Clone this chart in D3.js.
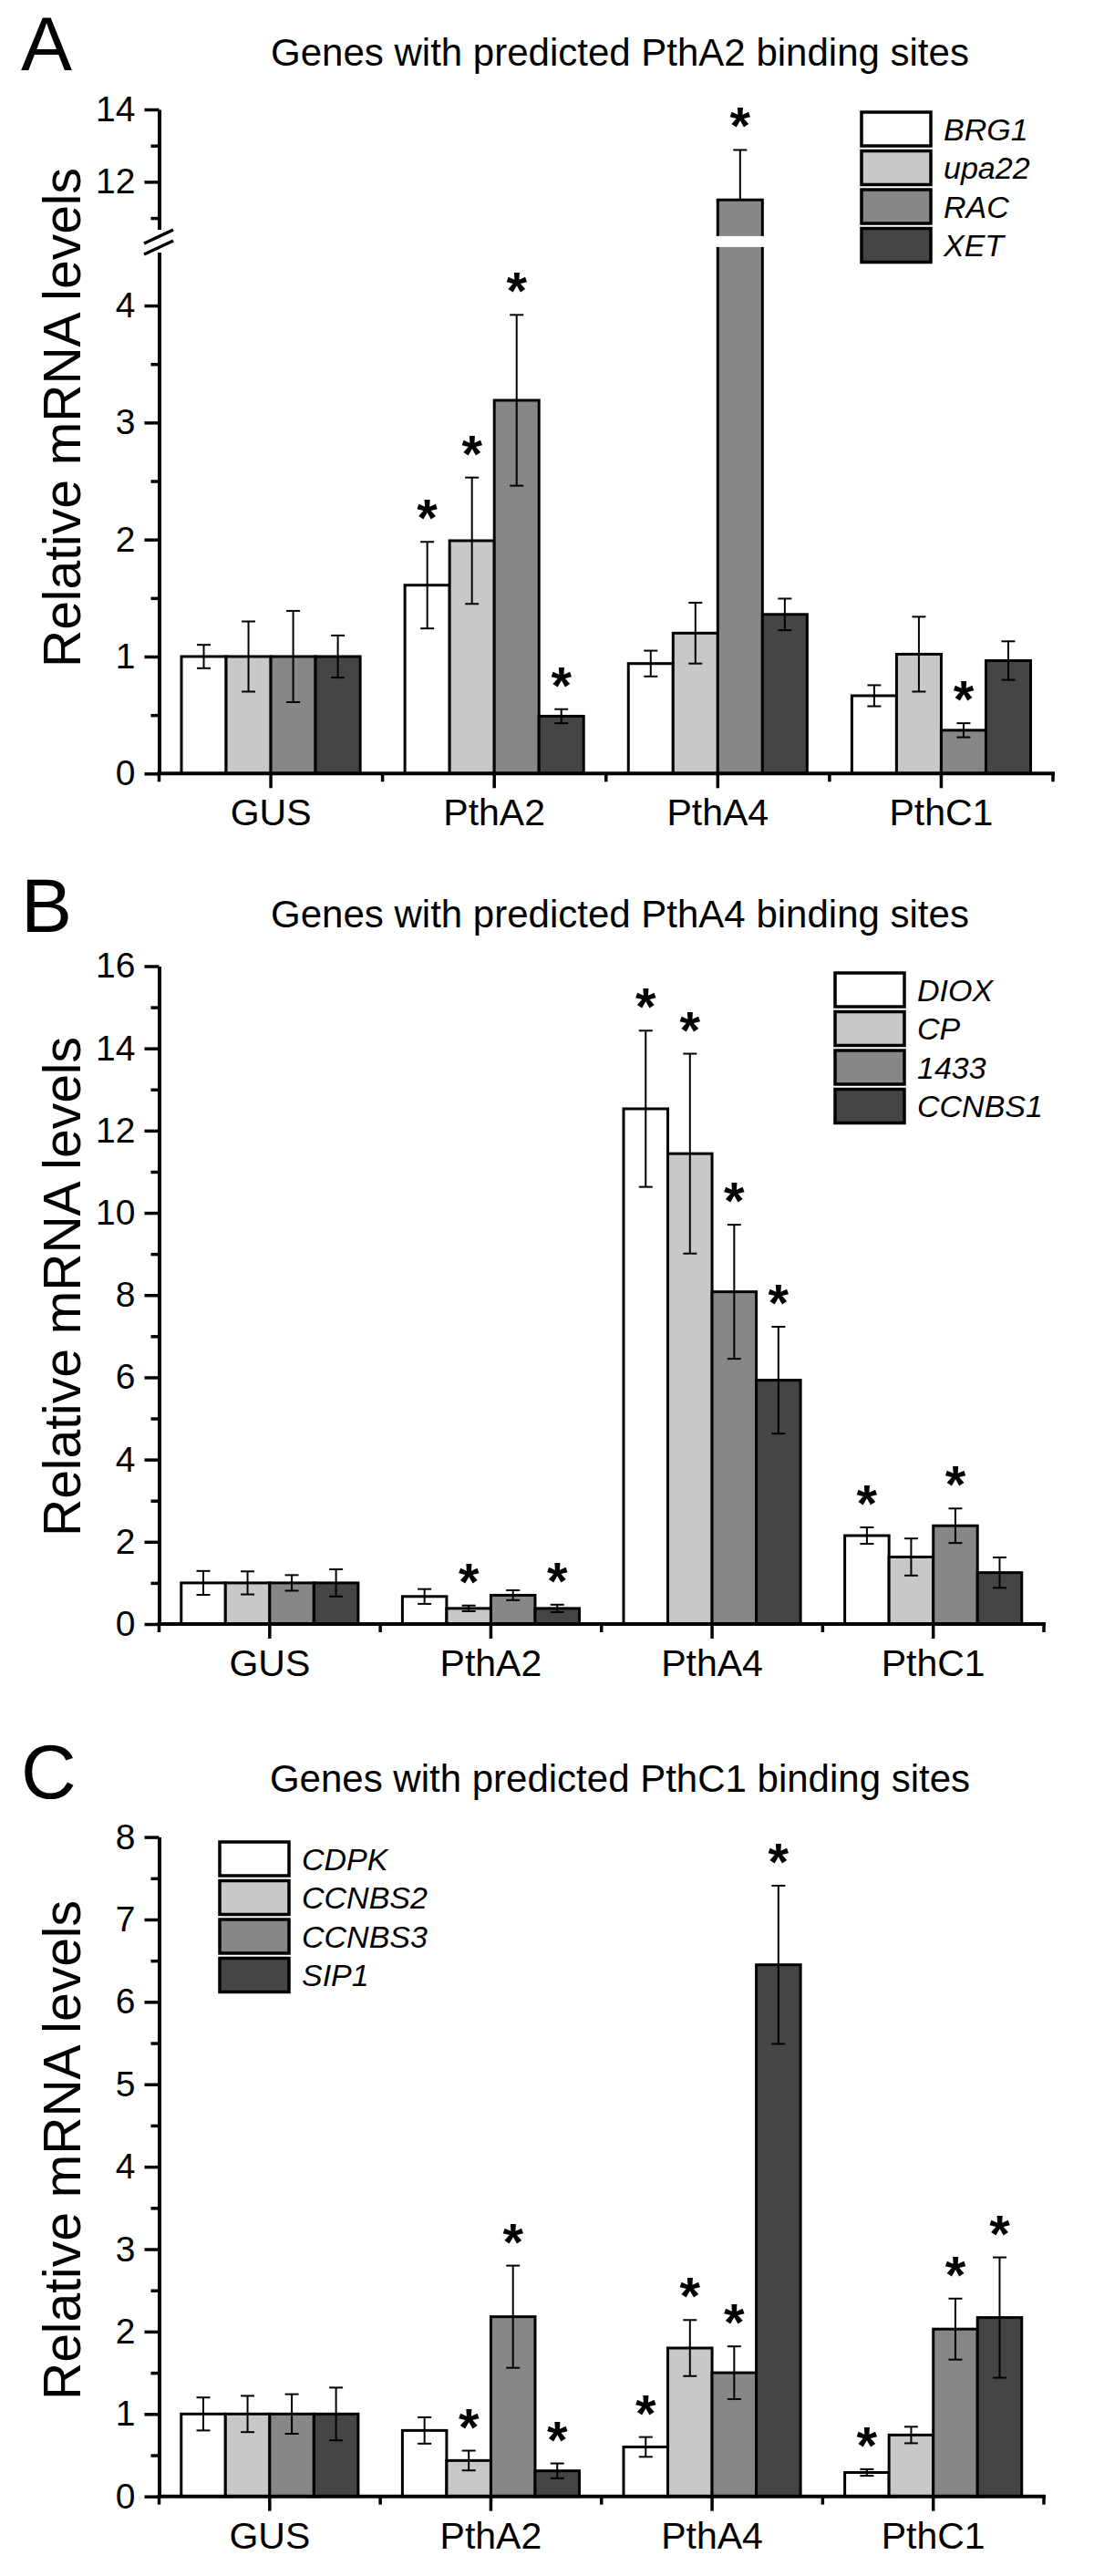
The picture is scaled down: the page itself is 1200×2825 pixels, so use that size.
<!DOCTYPE html>
<html><head><meta charset="utf-8">
<script src="https://cdn.jsdelivr.net/npm/d3@7"></script>
<style>
html,body{margin:0;padding:0;background:#fff;}
text{font-family:"Liberation Sans",Arial,Helvetica,sans-serif;fill:#000;}
</style></head>
<body><svg id="c" width="1200" height="2825"></svg>
<script>
// ---------------- DATA ----------------
const categories = ["GUS", "PthA2", "PthA4", "PthC1"];
const fills = ["#ffffff", "#c8c8c8", "#878787", "#454545"];

// Panel A
const genesA = ["BRG1", "upa22", "RAC", "XET"];
const meansA = [
  [1.00, 1.61, 0.94, 0.665],
  [1.00, 1.99, 1.20, 1.02],
  [1.00, 3.19, 11.50, 0.37],
  [1.00, 0.49, 1.36, 0.965]
];
const errorsA = [
  [0.10, 0.37, 0.11, 0.09],
  [0.30, 0.54, 0.26, 0.32],
  [0.39, 0.73, 1.38, 0.06],
  [0.18, 0.06, 0.135, 0.165]
];
const starsA = [
  [0, 1, 0, 0],
  [0, 1, 0, 0],
  [0, 1, 1, 1],
  [0, 1, 0, 0]
];
const ticksALower = [0, 1, 2, 3, 4];
const minorALower = [0.5, 1.5, 2.5, 3.5];
const ticksAUpper = [12, 14];
const minorAUpper = [11, 13];

// Panel B
const genesB = ["DIOX", "CP", "1433", "CCNBS1"];
const meansB = [
  [1.00, 0.67, 12.53, 2.15],
  [1.00, 0.38, 11.44, 1.63],
  [1.00, 0.70, 8.08, 2.39],
  [1.00, 0.38, 5.93, 1.25]
];
const errorsB = [
  [0.29, 0.18, 1.90, 0.20],
  [0.28, 0.07, 2.43, 0.45],
  [0.19, 0.12, 1.63, 0.42],
  [0.33, 0.09, 1.30, 0.37]
];
const starsB = [
  [0, 0, 1, 1],
  [0, 1, 1, 0],
  [0, 0, 1, 1],
  [0, 1, 1, 0]
];
const ticksB = [0, 2, 4, 6, 8, 10, 12, 14, 16];
const minorB = [1, 3, 5, 7, 9, 11, 13, 15];

// Panel C
const genesC = ["CDPK", "CCNBS2", "CCNBS3", "SIP1"];
const meansC = [
  [1.00, 0.80, 0.60, 0.29],
  [1.00, 0.435, 1.80, 0.745],
  [1.00, 2.18, 1.50, 2.03],
  [1.00, 0.31, 6.45, 2.17]
];
const errorsC = [
  [0.20, 0.16, 0.12, 0.04],
  [0.22, 0.12, 0.34, 0.10],
  [0.24, 0.62, 0.32, 0.37],
  [0.32, 0.09, 0.96, 0.73]
];
const starsC = [
  [0, 0, 1, 1],
  [0, 1, 1, 0],
  [0, 1, 1, 1],
  [0, 1, 1, 1]
];
const ticksC = [0, 1, 2, 3, 4, 5, 6, 7, 8];
const minorC = [0.5, 1.5, 2.5, 3.5, 4.5, 5.5, 6.5, 7.5];

const titles = [
  "Genes with predicted PthA2 binding sites",
  "Genes with predicted PthA4 binding sites",
  "Genes with predicted PthC1 binding sites"
];
const letters = ["A", "B", "C"];
const yLabel = "Relative mRNA levels";

// ---------------- DRAW ----------------
const svg = d3.select("#c");
const AX = 174.5;
const fmt = d3.format("d");

function drawPanel(p) {
  const g = svg.append("g");
  const x = d3.scaleBand().domain(categories).range([AX, p.xEnd]).padding(0);
  const xs = d3.scaleBand().domain(d3.range(4)).range([x.bandwidth() * 0.1, x.bandwidth() * 0.9]).padding(0);

  const yOf = v => {
    for (const s of p.segs) { const d = s.scale.domain(); if (v >= d[0] - 1e-9 && v <= d[1] + 1e-9) return s.scale(v); }
    return p.segs[p.segs.length - 1].scale(v);
  };

  // panel letter & title
  g.append("text").attr("x", 23).attr("y", p.letterY).attr("font-size", 84).text(p.letter);
  g.append("text").attr("x", 680).attr("y", p.titleY).attr("text-anchor", "middle").attr("font-size", 42).text(p.title);
  // y label
  g.append("text").attr("transform", `translate(88,${p.ylabY}) rotate(-90)`).attr("text-anchor", "middle")
    .attr("font-size", 57).text(yLabel);

  // bars
  const bars = g.append("g");
  p.means.forEach((row, si) => {
    row.forEach((v, ci) => {
      const bx = x(categories[ci]) + xs(si);
      const y0 = p.segs[0].scale(0);
      const yv = yOf(v);
      bars.append("rect").attr("x", bx).attr("y", yv).attr("width", xs.bandwidth()).attr("height", y0 - yv)
        .attr("fill", fills[si]).attr("stroke", "#000").attr("stroke-width", 3);
    });
  });
  // break gap on broken bars
  if (p.segs.length > 1) {
    const gapTop = p.segs[1].scale(p.segs[1].scale.domain()[0]);
    const gapBot = p.segs[0].scale(p.segs[0].scale.domain()[1]);
    p.means.forEach((row, si) => row.forEach((v, ci) => {
      if (v > p.segs[0].scale.domain()[1]) {
        const bx = x(categories[ci]) + xs(si);
        bars.append("rect").attr("x", bx - 3).attr("y", gapTop).attr("width", xs.bandwidth() + 6).attr("height", gapBot - gapTop).attr("fill", "#fff");
      }
    }));
  }

  // error bars & stars
  const eg = g.append("g").attr("stroke", "#000").attr("stroke-width", 2);
  p.means.forEach((row, si) => {
    row.forEach((v, ci) => {
      const cx = x(categories[ci]) + xs(si) + xs.bandwidth() / 2;
      const e = p.errors[si][ci];
      const yt = yOf(v + e);
      const broken = p.segs.length > 1 && v > p.segs[0].scale.domain()[1];
      const yb = broken ? yOf(v) : yOf(v - e);
      eg.append("line").attr("x1", cx).attr("x2", cx).attr("y1", yt).attr("y2", yb);
      eg.append("line").attr("x1", cx - 7.5).attr("x2", cx + 7.5).attr("y1", yt).attr("y2", yt);
      if (!broken) eg.append("line").attr("x1", cx - 7.5).attr("x2", cx + 7.5).attr("y1", yb).attr("y2", yb);
      if (p.stars[si][ci]) {
        g.append("text").attr("x", cx).attr("y", yt - 38 + 32).attr("text-anchor", "middle")
          .attr("font-size", 58).attr("font-weight", "bold").text("*");
      }
    });
  });

  // y axis segments
  p.segs.forEach(s => {
    const ax = g.append("g").attr("transform", `translate(${AX},0)`)
      .call(d3.axisLeft(s.scale).tickValues(s.major).tickFormat(fmt).tickSize(16).tickSizeOuter(0).tickPadding(10));
    ax.select(".domain").attr("stroke-width", 4);
    ax.selectAll(".tick line").attr("stroke-width", 3.5);
    ax.selectAll(".tick text").attr("font-size", 39).attr("font-family", '"Liberation Sans",Arial,sans-serif').attr("fill", "#000");
    const mi = g.append("g").attr("transform", `translate(${AX},0)`)
      .call(d3.axisLeft(s.scale).tickValues(s.minor).tickSize(9).tickSizeOuter(0).tickFormat(""));
    mi.select(".domain").remove();
    mi.selectAll(".tick line").attr("stroke-width", 3.5);
  });
  // axis break marks
  if (p.segs.length > 1) {
    const b0 = p.brk;
    g.append("rect").attr("x", AX - 6).attr("y", b0.top).attr("width", 12).attr("height", b0.bot - b0.top).attr("fill", "#fff");
    [0, 12].forEach(dy => {
      g.append("line").attr("x1", 158).attr("y1", b0.top + 15 + dy).attr("x2", 190).attr("y2", b0.top + dy)
        .attr("stroke", "#000").attr("stroke-width", 3.5);
    });
  }

  // x axis
  const y0 = p.segs[0].scale(0);
  const xg = g.append("g");
  xg.append("line").attr("x1", AX - 2).attr("x2", p.xEnd + 2).attr("y1", y0).attr("y2", y0).attr("stroke", "#000").attr("stroke-width", 4);
  const bounds = categories.map(c => x(c)).concat([p.xEnd]);
  bounds.forEach(bx => xg.append("line").attr("x1", bx).attr("x2", bx).attr("y1", y0).attr("y2", y0 + 9).attr("stroke", "#000").attr("stroke-width", 3.5));
  categories.forEach(c => {
    const cx = x(c) + x.bandwidth() / 2;
    xg.append("line").attr("x1", cx).attr("x2", cx).attr("y1", y0).attr("y2", y0 + 16).attr("stroke", "#000").attr("stroke-width", 3.5);
    xg.append("text").attr("x", cx).attr("y", y0 + 57).attr("text-anchor", "middle").attr("font-size", 41).text(c);
  });

  // legend
  const lg = g.append("g");
  p.genes.forEach((name, i) => {
    const ly = p.legY + i * 42.5;
    lg.append("rect").attr("x", p.legX).attr("y", ly).attr("width", 76).attr("height", 37)
      .attr("fill", fills[i]).attr("stroke", "#000").attr("stroke-width", 3.5);
    lg.append("text").attr("x", p.legX + 90).attr("y", ly + 18.5 + 12).attr("font-size", 34)
      .attr("font-style", "italic").text(name);
  });
}

drawPanel({
  letter: letters[0], title: titles[0], letterY: 77, titleY: 72, ylabY: 458, xEnd: 1155,
  means: meansA, errors: errorsA, stars: starsA, genes: genesA, legX: 945, legY: 123,
  segs: [
    { scale: d3.scaleLinear().domain([0, 4.5]).range([848.3, 270.9]), major: ticksALower, minor: minorALower },
    { scale: d3.scaleLinear().domain([10.5, 14]).range([258.9, 120]), major: ticksAUpper, minor: minorAUpper }
  ],
  brk: { top: 252, bot: 277 }
});
drawPanel({
  letter: letters[1], title: titles[1], letterY: 1022, titleY: 1017, ylabY: 1411, xEnd: 1145,
  means: meansB, errors: errorsB, stars: starsB, genes: genesB, legX: 916, legY: 1067,
  segs: [{ scale: d3.scaleLinear().domain([0, 16]).range([1781, 1059.5]), major: ticksB, minor: minorB }]
});
drawPanel({
  letter: letters[2], title: titles[2], letterY: 1972, titleY: 1965, ylabY: 2358, xEnd: 1145,
  means: meansC, errors: errorsC, stars: starsC, genes: genesC, legX: 241, legY: 2020,
  segs: [{ scale: d3.scaleLinear().domain([0, 8]).range([2737.7, 2014.6]), major: ticksC, minor: minorC }]
});
</script></body></html>
